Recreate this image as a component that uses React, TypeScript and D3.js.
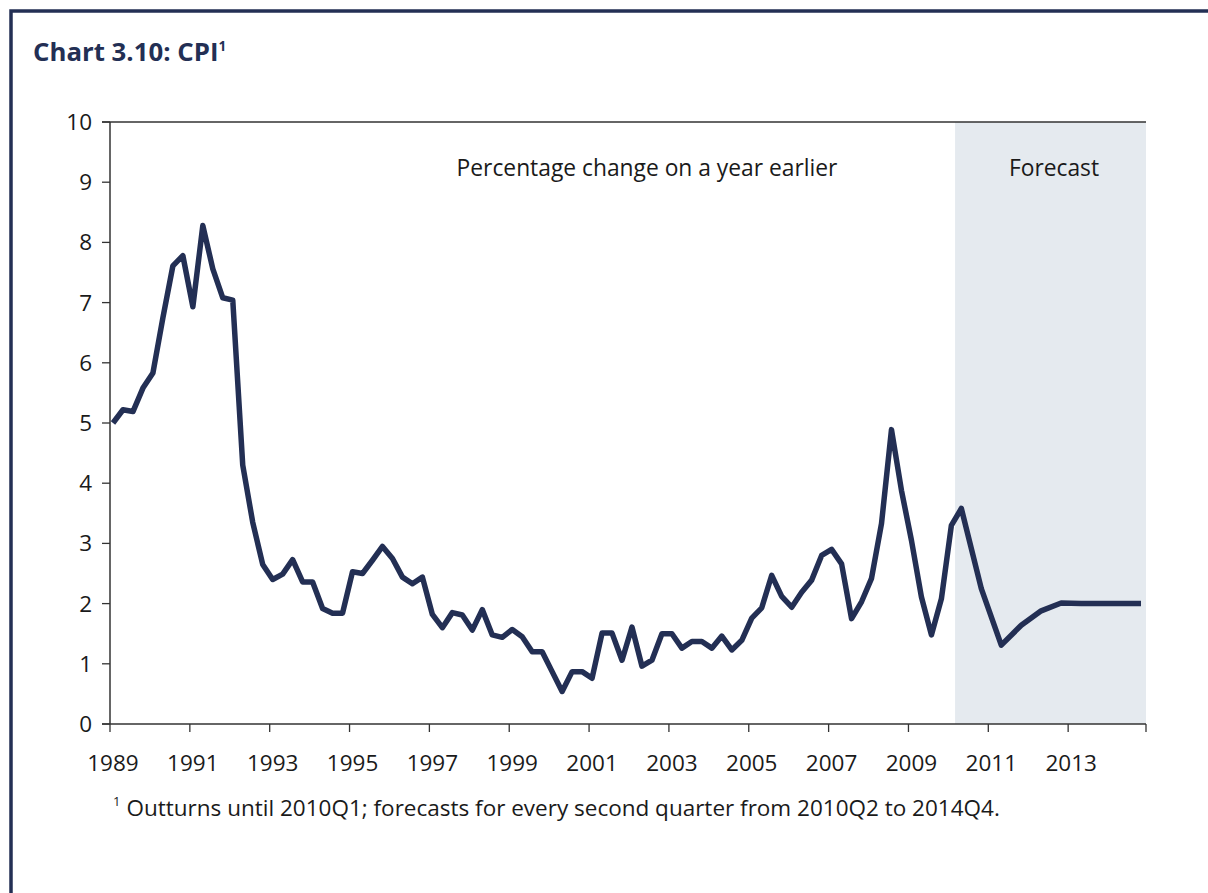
import React from "react";
import * as d3 from "d3";

const outturnStartYear = 1989;
const outturns: number[] = [
  5.0, 5.22, 5.19, 5.58, 5.83, 6.75, 7.61, 7.78, 6.93, 8.28, 7.56, 7.08, 7.04,
  4.3, 3.35, 2.65, 2.4, 2.49, 2.73, 2.36, 2.36, 1.92, 1.84, 1.84, 2.53, 2.5,
  2.72, 2.95, 2.75, 2.44, 2.33, 2.44, 1.82, 1.6, 1.85, 1.81, 1.56, 1.9, 1.48,
  1.44, 1.57, 1.45, 1.2, 1.2, 0.87, 0.54, 0.87, 0.87, 0.76, 1.51, 1.51, 1.06,
  1.61, 0.96, 1.06, 1.5, 1.5, 1.26, 1.37, 1.37, 1.26, 1.46, 1.23, 1.39, 1.76,
  1.93, 2.47, 2.12, 1.94, 2.19, 2.39, 2.8, 2.9, 2.66, 1.75, 2.03, 2.42, 3.33,
  4.89, 3.88, 3.05, 2.11, 1.48, 2.08, 3.3,
];
// forecasts every second quarter, 2010Q2 .. 2014Q4
const forecastQuarters: string[] = [
  "2010Q2", "2010Q4", "2011Q2", "2011Q4", "2012Q2", "2012Q4", "2013Q2", "2013Q4", "2014Q2", "2014Q4",
];
const forecasts: number[] = [3.58, 2.25, 1.31, 1.64, 1.88, 2.01, 2.0, 2.0, 2.0, 2.0];
const xTickYears: number[] = [1989, 1991, 1993, 1995, 1997, 1999, 2001, 2003, 2005, 2007, 2009, 2011, 2013];
const yTicks: number[] = [0, 1, 2, 3, 4, 5, 6, 7, 8, 9, 10];
const forecastShadeStart = "2010Q1";

const qIndex = (s: string) => {
  const y = +s.slice(0, 4);
  const q = +s.slice(5);
  return (y - outturnStartYear) * 4 + (q - 1);
};

export default function App() {
  const W = 1208;
  const H = 893;
  const left = 110;
  const right = 1146;
  const top = 122;
  const bottom = 724;
  const navy = "#232f54";
  const font = "'Open Sans', 'Noto Sans', sans-serif";

  const x = d3.scaleLinear().domain([-0.3, 103.5]).range([left, right]);
  const y = d3.scaleLinear().domain([0, 10]).range([bottom, top]);

  const pts: [number, number][] = outturns.map((v, i) => [i, v]);
  forecastQuarters.forEach((q, k) => pts.push([qIndex(q), forecasts[k]]));
  const line = d3
    .line<[number, number]>()
    .x((d) => x(d[0]))
    .y((d) => y(d[1]));

  const shadeX = x(qIndex(forecastShadeStart) + 0.37);

  return (
    <svg
      width={W}
      height={H}
      style={{ position: "absolute", left: 0, top: 0, background: "#fff" }}
      fontFamily={font}
    >
      <rect x={0} y={0} width={W} height={H} fill="#fff" />
      <rect x={11} y={11} width={W + 20} height={H + 20} fill="none" stroke={navy} strokeWidth={3.5} />
      <text x={33} y={61} fontSize={25.8} fontWeight="bold" fill={navy}>
        Chart 3.10: CPI
        <tspan fontSize={13.5} dy={-10}>1</tspan>
      </text>

      <rect x={shadeX} y={top} width={right - shadeX} height={bottom - top} fill="#e5eaef" />

      <text x={647} y={176} textAnchor="middle" fontSize={22.8} fill="#1a1a1a">
        Percentage change on a year earlier
      </text>
      <text x={1054} y={176} textAnchor="middle" fontSize={22.8} fill="#1a1a1a">
        Forecast
      </text>

      {/* axes */}
      <line x1={left - 8} x2={right} y1={top} y2={top} stroke="#333" strokeWidth={1.3} />
      <line x1={left} x2={left} y1={top} y2={bottom} stroke="#333" strokeWidth={1.5} />
      <line x1={left - 8} x2={right} y1={bottom} y2={bottom} stroke="#333" strokeWidth={1.5} />
      {yTicks.map((t) => (
        <g key={t}>
          <line x1={left - 8} x2={left} y1={y(t)} y2={y(t)} stroke="#333" strokeWidth={1.3} />
          <text x={92} y={y(t) + 8} textAnchor="end" fontSize={22.5} fill="#1a1a1a">
            {t}
          </text>
        </g>
      ))}
      {xTickYears.map((yr) => {
        const i = (yr - outturnStartYear) * 4;
        return (
          <g key={yr}>
            <line x1={x(i - 0.3)} x2={x(i - 0.3)} y1={bottom} y2={bottom + 8} stroke="#333" strokeWidth={1.3} />
            <text x={x(i)} y={771} textAnchor="middle" fontSize={22.5} fill="#1a1a1a">
              {yr}
            </text>
          </g>
        );
      })}
      <line x1={right} x2={right} y1={bottom} y2={bottom + 8} stroke="#333" strokeWidth={1.3} />

      <path d={line(pts) ?? ""} fill="none" stroke={navy} strokeWidth={5.5} strokeLinejoin="round" strokeLinecap="butt" />

      <text x={113} y={816} fontSize={22.5} fill="#1a1a1a">
        <tspan fontSize={13} dy={-10}>1</tspan>
        <tspan dx={6} dy={10}>Outturns until 2010Q1; forecasts for every second quarter from 2010Q2 to 2014Q4.</tspan>
      </text>
    </svg>
  );
}
